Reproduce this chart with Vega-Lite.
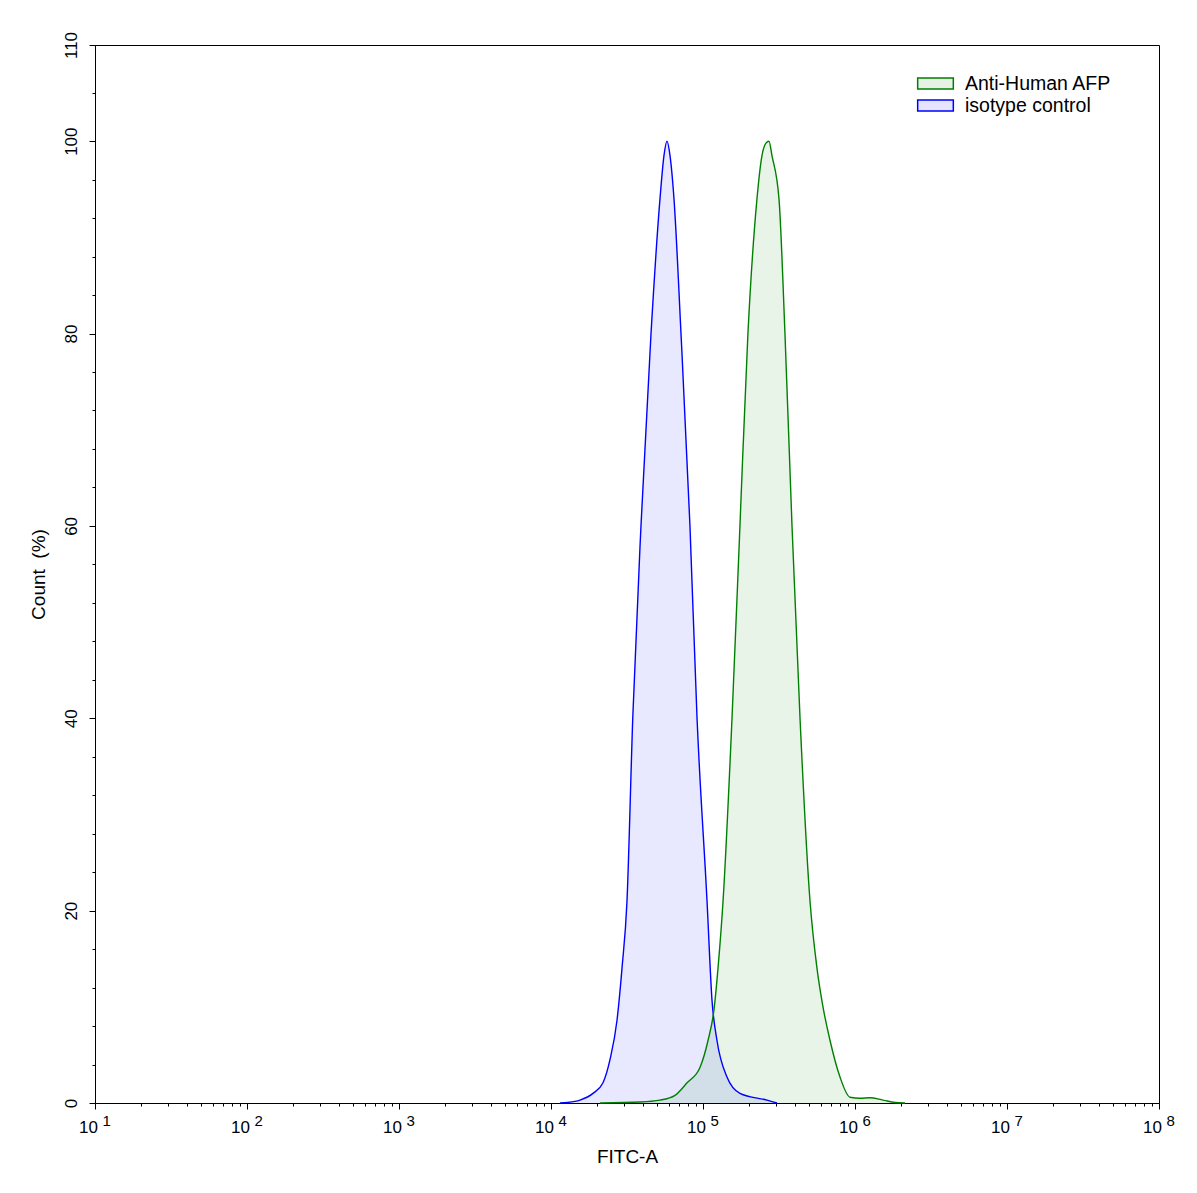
{
  "$schema": "https://vega.github.io/schema/vega-lite/v6.json",
  "width": 1064,
  "height": 1058,
  "autosize": {"type": "none"},
  "padding": {"left": 95, "top": 45, "right": 38, "bottom": 90},
  "background": "white",
  "config": {
    "font": "Liberation Sans",
    "view": {"stroke": "black", "strokeWidth": 1},
    "axis": {"domainColor": "black", "tickColor": "black", "labelColor": "black", "titleColor": "black", "grid": false, "zindex": 1, "labelFont": "Liberation Sans", "titleFont": "Liberation Sans", "titleFontWeight": "normal"}
  },
  "datasets": {
    "hist": [
      {"series": "isotype control", "fitc": 11460, "count": 0},
      {"series": "isotype control", "fitc": 12740, "count": 0.05},
      {"series": "isotype control", "fitc": 15520, "count": 0.3},
      {"series": "isotype control", "fitc": 18890, "count": 1.0},
      {"series": "isotype control", "fitc": 21980, "count": 2.1},
      {"series": "isotype control", "fitc": 24440, "count": 4.5},
      {"series": "isotype control", "fitc": 27180, "count": 8.6},
      {"series": "isotype control", "fitc": 29310, "count": 14},
      {"series": "isotype control", "fitc": 31620, "count": 21},
      {"series": "isotype control", "fitc": 34500, "count": 40},
      {"series": "isotype control", "fitc": 39080, "count": 60},
      {"series": "isotype control", "fitc": 45500, "count": 80},
      {"series": "isotype control", "fitc": 52120, "count": 94},
      {"series": "isotype control", "fitc": 55360, "count": 98.5},
      {"series": "isotype control", "fitc": 57940, "count": 100},
      {"series": "isotype control", "fitc": 60680, "count": 98.5},
      {"series": "isotype control", "fitc": 64440, "count": 94},
      {"series": "isotype control", "fitc": 71650, "count": 80},
      {"series": "isotype control", "fitc": 82080, "count": 60},
      {"series": "isotype control", "fitc": 91380, "count": 40},
      {"series": "isotype control", "fitc": 106300, "count": 21},
      {"series": "isotype control", "fitc": 114600, "count": 10.7},
      {"series": "isotype control", "fitc": 123600, "count": 6.5},
      {"series": "isotype control", "fitc": 143800, "count": 2.7},
      {"series": "isotype control", "fitc": 175000, "count": 1.0},
      {"series": "isotype control", "fitc": 263400, "count": 0.3},
      {"series": "isotype control", "fitc": 306700, "count": 0},
      {"series": "Anti-Human AFP", "fitc": 20990, "count": 0},
      {"series": "Anti-Human AFP", "fitc": 38530, "count": 0.1},
      {"series": "Anti-Human AFP", "fitc": 52120, "count": 0.3},
      {"series": "Anti-Human AFP", "fitc": 65460, "count": 0.8},
      {"series": "Anti-Human AFP", "fitc": 78520, "count": 2.1},
      {"series": "Anti-Human AFP", "fitc": 95530, "count": 3.7},
      {"series": "Anti-Human AFP", "fitc": 107900, "count": 6.5},
      {"series": "Anti-Human AFP", "fitc": 118100, "count": 9.7},
      {"series": "Anti-Human AFP", "fitc": 125500, "count": 14},
      {"series": "Anti-Human AFP", "fitc": 135500, "count": 21},
      {"series": "Anti-Human AFP", "fitc": 155200, "count": 40},
      {"series": "Anti-Human AFP", "fitc": 175000, "count": 60},
      {"series": "Anti-Human AFP", "fitc": 197500, "count": 80},
      {"series": "Anti-Human AFP", "fitc": 226500, "count": 94},
      {"series": "Anti-Human AFP", "fitc": 244300, "count": 98.5},
      {"series": "Anti-Human AFP", "fitc": 259500, "count": 99.8},
      {"series": "Anti-Human AFP", "fitc": 271600, "count": 100},
      {"series": "Anti-Human AFP", "fitc": 284300, "count": 98.5},
      {"series": "Anti-Human AFP", "fitc": 316200, "count": 94},
      {"series": "Anti-Human AFP", "fitc": 346100, "count": 80},
      {"series": "Anti-Human AFP", "fitc": 385100, "count": 60},
      {"series": "Anti-Human AFP", "fitc": 434800, "count": 40},
      {"series": "Anti-Human AFP", "fitc": 505800, "count": 21},
      {"series": "Anti-Human AFP", "fitc": 562300, "count": 14},
      {"series": "Anti-Human AFP", "fitc": 615700, "count": 10},
      {"series": "Anti-Human AFP", "fitc": 685100, "count": 6.5},
      {"series": "Anti-Human AFP", "fitc": 796700, "count": 2.7},
      {"series": "Anti-Human AFP", "fitc": 926300, "count": 0.6},
      {"series": "Anti-Human AFP", "fitc": 1078000, "count": 0.5},
      {"series": "Anti-Human AFP", "fitc": 1256000, "count": 0.55},
      {"series": "Anti-Human AFP", "fitc": 1528000, "count": 0.3},
      {"series": "Anti-Human AFP", "fitc": 1834000, "count": 0.05},
      {"series": "Anti-Human AFP", "fitc": 2133000, "count": 0}
    ]
  },
  "data": {"name": "hist"},
  "resolve": {"scale": {"x": "shared", "y": "shared", "color": "shared"}, "axis": {"x": "independent", "y": "independent"}},
  "layer": [
    {
      "mark": {"type": "area", "fillOpacity": 0.09, "interpolate": "monotone"},
      "encoding": {
        "x": {
          "field": "fitc", "type": "quantitative",
          "scale": {"type": "log", "domain": [10, 100000000], "nice": false},
          "axis": {
            "orient": "bottom",
            "title": "FITC-A",
            "titleFontSize": 19,
            "titlePadding": 12,
            "values": [10,20,30,40,50,60,70,80,90,100,200,300,400,500,600,700,800,900,1000,2000,3000,4000,5000,6000,7000,8000,9000,10000,20000,30000,40000,50000,60000,70000,80000,90000,100000,200000,300000,400000,500000,600000,700000,800000,900000,1000000,2000000,3000000,4000000,5000000,6000000,7000000,8000000,9000000,10000000,20000000,30000000,40000000,50000000,60000000,70000000,80000000,90000000,100000000],
            "tickSize": {"condition": {"test": "abs(log(datum.value)/LN10 - round(log(datum.value)/LN10)) < 0.000001", "value": 6}, "value": 3},
            "labelExpr": "abs(log(datum.value)/LN10 - round(log(datum.value)/LN10)) < 0.000001 ? '10' : ''",
            "labelFontSize": 17,
            "labelOffset": -7,
            "labelPadding": 10,
            "labelOverlap": false,
            "labelFlush": false
          }
        },
        "y": {
          "field": "count", "type": "quantitative", "stack": null,
          "scale": {"domain": [0, 110], "nice": false, "zero": true},
          "axis": {
            "orient": "left",
            "title": "Count \u00a0(%)",
            "titleFontSize": 19,
            "titlePadding": 14,
            "values": [0,4,8,12,16,20,24,28,32,36,40,44,48,52,56,60,64,68,72,76,80,84,88,92,96,100,105,110],
            "tickSize": {"condition": {"test": "datum.value % 20 == 0 || datum.value == 110", "value": 6}, "value": 3},
            "labelExpr": "(datum.value % 20 == 0 || datum.value == 110) ? datum.label : ''",
            "labelAngle": -90,
            "labelAlign": "center",
            "labelBaseline": "bottom",
            "labelFontSize": 17,
            "labelPadding": 9,
            "labelOverlap": false,
            "labelFlush": false
          }
        },
        "color": {
          "field": "series", "type": "nominal",
          "scale": {"domain": ["Anti-Human AFP", "isotype control"], "range": ["#008000", "#0000ff"]},
          "legend": {
            "title": null,
            "orient": "none",
            "legendX": 828,
            "legendY": 26,
            "labelFontSize": 19.5,
            "labelFont": "Liberation Sans",
            "labelColor": "black",
            "symbolType": "M-1.55,-0.47H1.55V0.47H-1.55Z",
            "symbolSize": 529,
            "symbolStrokeWidth": 1.5,
            "labelOffset": 17,
            "rowPadding": 0,
            "encode": {
              "symbols": {"update": {"fill": {"scale": "color", "field": "value"}, "fillOpacity": {"value": 0.1}, "stroke": {"scale": "color", "field": "value"}, "strokeWidth": {"value": 1.5}, "opacity": {"value": 1}}}
            }
          }
        }
      }
    },
    {
      "mark": {"type": "line", "strokeWidth": 1.4, "interpolate": "monotone"},
      "encoding": {
        "x": {
          "field": "fitc", "type": "quantitative",
          "axis": {
            "orient": "bottom",
            "title": null,
            "domain": false,
            "ticks": false,
            "values": [10,100,1000,10000,100000,1000000,10000000,100000000],
            "labelExpr": "format(round(log(datum.value)/LN10), 'd')",
            "labelFontSize": 15,
            "labelAlign": "left",
            "labelOffset": 7,
            "labelPadding": 10,
            "labelOverlap": false,
            "labelFlush": false
          }
        },
        "y": {"field": "count", "type": "quantitative", "stack": null, "axis": null},
        "color": {"field": "series", "type": "nominal"}
      }
    }
  ]
}
